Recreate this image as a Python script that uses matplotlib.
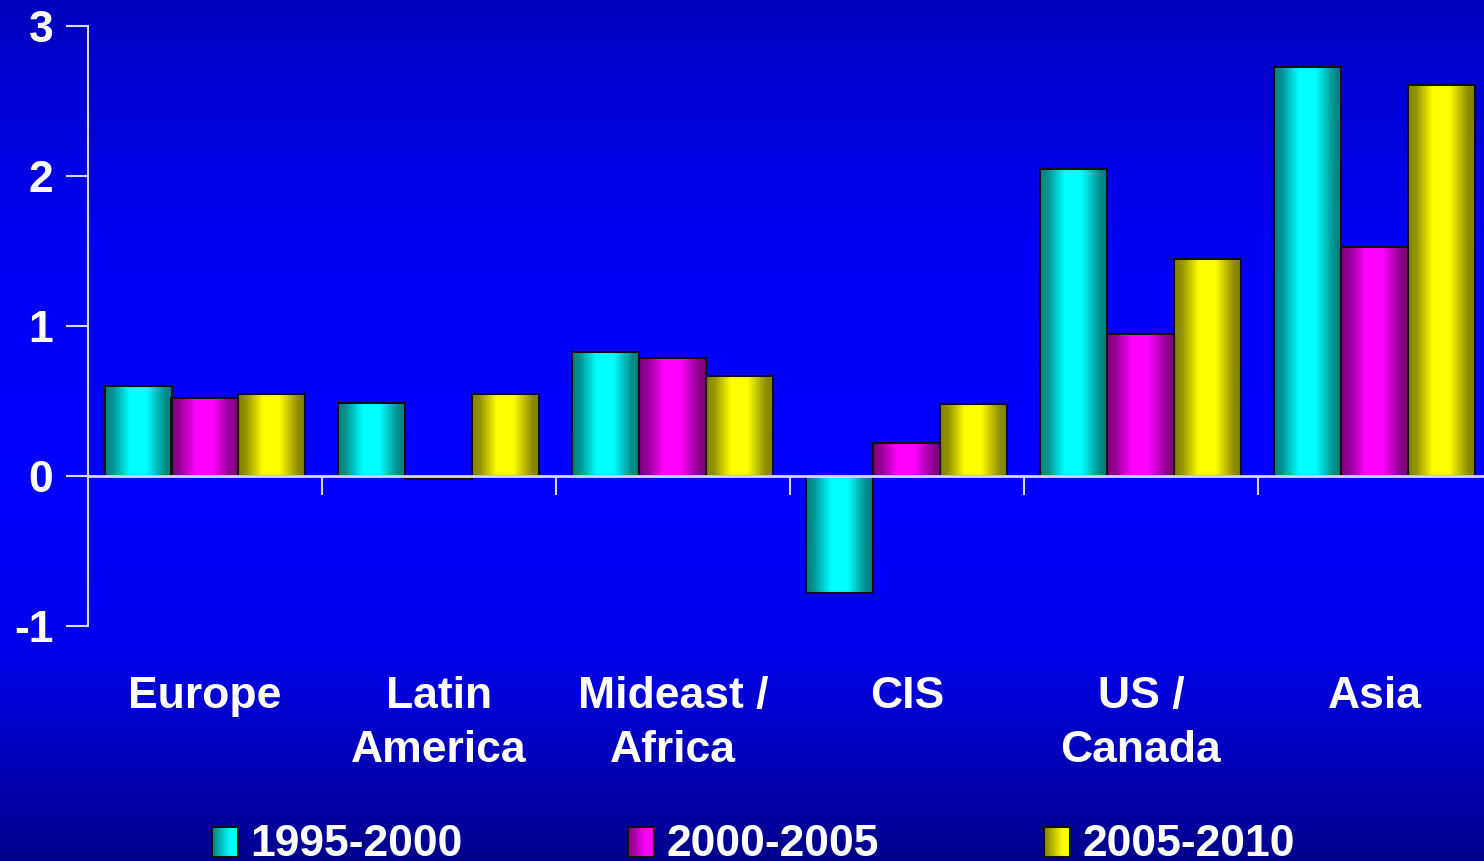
import numpy as np
import matplotlib
matplotlib.use("Agg")
import matplotlib.pyplot as plt
from matplotlib.colors import to_rgb
from matplotlib.transforms import blended_transform_factory

plt.rcParams['font.family'] = ['Liberation Sans', 'DejaVu Sans']
plt.rcParams['font.weight'] = 'bold'

categories = ["Europe", "Latin\nAmerica", "Mideast /\nAfrica", "CIS", "US /\nCanada", "Asia"]
series_names = ["1995-2000", "2000-2005", "2005-2010"]
v_1995_2000 = [0.60, 0.49, 0.83, -0.78, 2.05, 2.73]
v_2000_2005 = [0.52, -0.02, 0.79, 0.22, 0.95, 1.53]
v_2005_2010 = [0.55, 0.55, 0.67, 0.48, 1.45, 2.61]
series_values = [v_1995_2000, v_2000_2005, v_2005_2010]
series_colors = ["#00FFFF", "#FF00FF", "#FFFF00"]
y_ticks = [-1, 0, 1, 2, 3]
y_tick_labels = ["-1", "0", "1", "2", "3"]

W, H = 1484, 861
fig = plt.figure(figsize=(W / 100, H / 100), dpi=100)

# vertical blue background gradient
bg = fig.add_axes([0, 0, 1, 1], zorder=-10)
rows = np.arange(H)
blue = np.interp(rows, [0, 250, 480, 640, 861], [190, 245, 255, 238, 140]) / 255.0
img = np.zeros((H, 2, 3))
img[:, :, 2] = blue[:, None]
bg.imshow(img, aspect='auto', extent=[0, 1, 0, 1], origin='upper')
bg.set_axis_off()

left_px, right_px = 88, 88 + 6 * 234
top_px, bot_px = 26, 626
ax = fig.add_axes([left_px / W, (H - bot_px) / H, (right_px - left_px) / W, (bot_px - top_px) / H])
ax.set_facecolor('none')

n = len(categories)
x = np.arange(n)
bw = 67 / 234

# cylinder-like horizontal shading profile
t = np.linspace(0, 1, 200)
shade = np.interp(t, [0, 0.12, 0.37, 0.62, 0.9, 1.0], [0.5, 0.58, 1.0, 1.0, 0.55, 0.5])

for i, (vals, col) in enumerate(zip(series_values, series_colors)):
    bars = ax.bar(x + (i - 1) * bw, vals, width=bw, color=col, edgecolor='#101010',
                  linewidth=1.5, zorder=2)
    rgb = np.array(to_rgb(col))
    grad = shade[None, :, None] * rgb[None, None, :]
    for b in bars:
        x0, y0 = b.get_x(), b.get_y()
        w, h = b.get_width(), b.get_height()
        ax.imshow(grad, aspect='auto', extent=[x0, x0 + w, min(y0, y0 + h), max(y0, y0 + h)],
                  zorder=2.1, interpolation='bilinear')
        b.set_facecolor('none')
        b.set_zorder(2.2)

ax.set_xlim(-0.5, n - 0.5)
ax.set_ylim(-1, 3)

line_col = '#D8D8F0'
for s in ['top', 'right']:
    ax.spines[s].set_visible(False)
ax.spines['left'].set_color(line_col)
ax.spines['left'].set_linewidth(1.5)
ax.spines['bottom'].set_position(('data', 0))
ax.spines['bottom'].set_color(line_col)
ax.spines['bottom'].set_linewidth(2)
ax.spines['bottom'].set_zorder(3)

ax.set_yticks(y_ticks)
ax.set_yticklabels(y_tick_labels)
ax.tick_params(axis='y', direction='out', length=16, width=1.5, color=line_col,
               labelcolor='white', labelsize=32, pad=9)
ax.set_xticks(np.arange(n - 1) + 0.5)
ax.set_xticklabels([])
ax.tick_params(axis='x', direction='out', length=14, width=1.5, color=line_col)

trans = blended_transform_factory(ax.transData, fig.transFigure)
for xi, lab in zip(x, categories):
    ax.text(xi, (H - 676) / H, lab, transform=trans, ha='center', va='top',
            color='white', fontsize=32, fontweight='bold', linespacing=1.42)

# legend
sq_x = [212, 628, 1044]
sq_w, sq_h = 26, 30
tl = np.linspace(0, 1, 50)
lshade = np.interp(tl, [0, 0.7, 1.0], [0.5, 1.0, 1.0])
for sx, name, col in zip(sq_x, series_names, series_colors):
    lax = fig.add_axes([sx / W, (H - 857) / H, sq_w / W, sq_h / H])
    rgb = np.array(to_rgb(col))
    lax.imshow(lshade[None, :, None] * rgb[None, None, :], aspect='auto',
               extent=[0, 1, 0, 1], interpolation='bilinear')
    lax.set_xticks([])
    lax.set_yticks([])
    for s in lax.spines.values():
        s.set_color('#101010')
        s.set_linewidth(1.5)
    fig.text((sx + 38) / W, (H - 856) / H, name, ha='left', va='baseline',
             color='white', fontsize=32, fontweight='bold')

fig.savefig("out.png", dpi=100)
